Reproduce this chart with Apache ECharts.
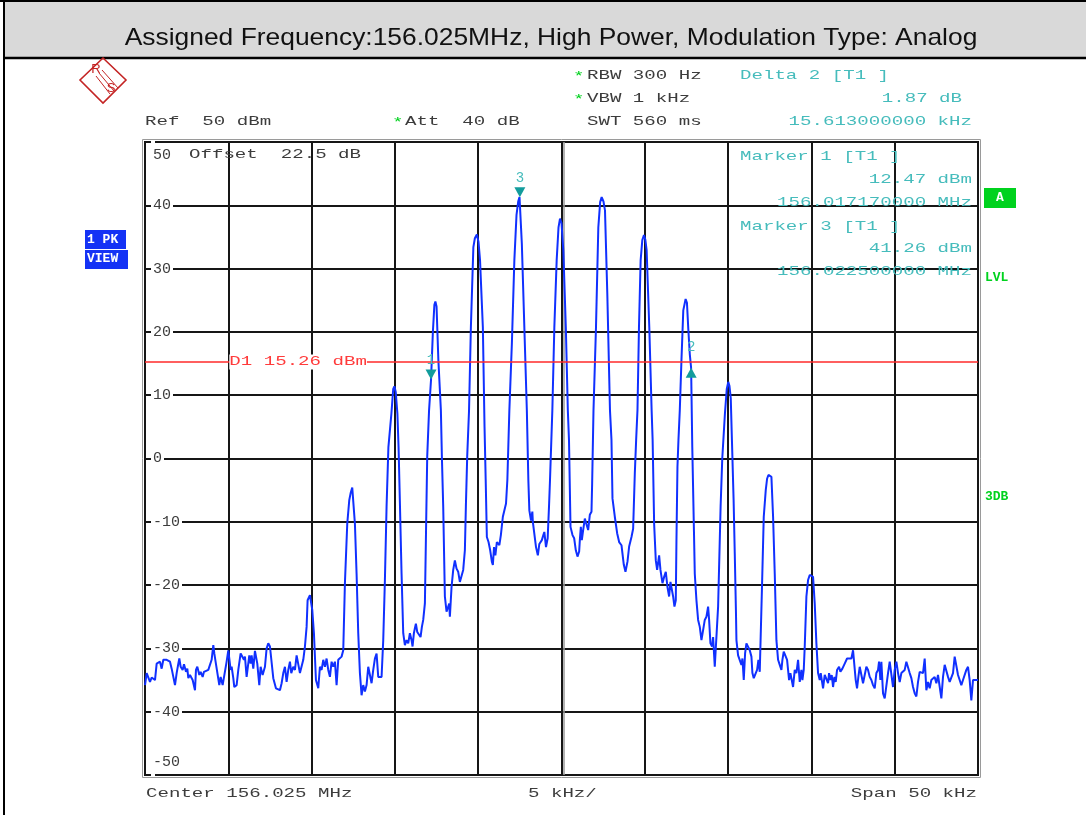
<!DOCTYPE html>
<html>
<head>
<meta charset="utf-8">
<script src="https://cdn.jsdelivr.net/npm/echarts@6/dist/echarts.min.js"></script>
<style>
html, body { margin: 0; padding: 0; background: #fff; }
#main { width: 1086px; height: 815px; }
</style>
</head>
<body>
<div id="main"></div>
<script>
var traceKHz = [
    -25.0, -24.9, -24.8, -24.7, -24.6, -24.4, -24.3, -24.1, -24.0, -23.9, -23.8, -23.7, -23.6, -23.5, -23.4, -23.3,
    -23.2, -23.1, -23.0, -22.94, -22.86, -22.74, -22.66, -22.54, -22.46, -22.4, -22.3, -22.14, -22.0, -21.94, -21.86,
    -21.74, -21.66, -21.54, -21.46, -21.34, -21.2, -21.1, -21.0, -20.9, -20.84, -20.78, -20.66, -20.54, -20.46, -20.34,
    -20.22, -20.1, -20.0, -19.94, -19.86, -19.8, -19.7, -19.64, -19.5, -19.4, -19.26, -19.14, -19.06, -19.0, -18.9,
    -18.74, -18.66, -18.6, -18.5, -18.4, -18.34, -18.26, -18.14, -18.06, -17.94, -17.8, -17.7, -17.6, -17.5, -17.3,
    -17.14, -16.9, -16.8, -16.7, -16.6, -16.5, -16.4, -16.3, -16.22, -16.1, -16.0, -15.9, -15.8, -15.7, -15.6, -15.5,
    -15.4, -15.3, -15.24, -15.1, -15.04, -14.96, -14.86, -14.74, -14.6, -14.5, -14.4, -14.3, -14.2, -14.1, -14.0,
    -13.9, -13.8, -13.7, -13.6, -13.5, -13.4, -13.3, -13.2, -13.1, -13.0, -12.86, -12.74, -12.66, -12.56, -12.48,
    -12.4, -12.3, -12.2, -12.1, -12.0, -11.9, -11.8, -11.7, -11.6, -11.5, -11.4, -11.3, -11.2, -11.1, -11.0, -10.9,
    -10.8, -10.7, -10.6, -10.5, -10.39, -10.21, -10.1, -10.03, -9.95, -9.85, -9.78, -9.7, -9.6, -9.5, -9.4, -9.3,
    -9.2, -9.1, -9.0, -8.94, -8.86, -8.8, -8.74, -8.66, -8.54, -8.46, -8.38, -8.3, -8.2, -8.14, -8.06, -7.95, -7.83,
    -7.72, -7.63, -7.57, -7.5, -7.39, -7.24, -7.18, -7.1, -7.0, -6.9, -6.8, -6.74, -6.7, -6.6, -6.5, -6.4, -6.3,
    -6.2, -6.1, -6.0, -5.9, -5.8, -5.74, -5.66, -5.55, -5.44, -5.29, -5.2, -5.08, -4.98, -4.89, -4.72, -4.62, -4.55,
    -4.48, -4.38, -4.28, -4.18, -4.12, -4.05, -3.97, -3.88, -3.79, -3.73, -3.64, -3.52, -3.43, -3.33, -3.25, -3.13,
    -2.98, -2.83, -2.7, -2.6, -2.52, -2.38, -2.23, -2.08, -1.99, -1.93, -1.83, -1.75, -1.72, -1.63, -1.53, -1.42,
    -1.33, -1.18, -1.09, -1.03, -0.93, -0.83, -0.75, -0.69, -0.55, -0.43, -0.29, -0.18, -0.09, 0.0, 0.11, 0.26,
    0.38, 0.45, 0.54, 0.66, 0.76, 0.86, 0.96, 1.06, 1.1, 1.16, 1.22, 1.3, 1.4, 1.5, 1.6, 1.7, 1.8, 1.84, 1.92,
    2.07, 2.21, 2.32, 2.41, 2.52, 2.61, 2.75, 2.91, 3.0, 3.06, 3.2, 3.34, 3.46, 3.6, 3.74, 3.84, 3.96, 4.06, 4.2,
    4.3, 4.4, 4.48, 4.56, 4.65, 4.75, 4.85, 4.95, 5.03, 5.11, 5.27, 5.41, 5.47, 5.56, 5.66, 5.74, 5.86, 5.94, 6.06,
    6.16, 6.26, 6.36, 6.46, 6.54, 6.62, 6.7, 6.78, 6.86, 6.9, 6.96, 7.02, 7.1, 7.2, 7.31, 7.45, 7.53, 7.61, 7.7,
    7.78, 7.85, 7.95, 8.0, 8.1, 8.2, 8.3, 8.4, 8.5, 8.6, 8.7, 8.8, 8.86, 8.94, 9.04, 9.1, 9.2, 9.3, 9.4, 9.55,
    9.65, 9.81, 9.92, 10.01, 10.08, 10.16, 10.23, 10.33, 10.4, 10.47, 10.5, 10.6, 10.7, 10.8, 10.86, 10.94, 11.02,
    11.1, 11.2, 11.3, 11.4, 11.46, 11.54, 11.66, 11.74, 11.82, 11.9, 11.96, 12.04, 12.14, 12.26, 12.34, 12.42,
    12.5, 12.6, 12.7, 12.8, 12.9, 13.0, 13.1, 13.2, 13.26, 13.34, 13.46, 13.54, 13.66, 13.74, 13.82, 13.9, 14.0,
    14.1, 14.2, 14.3, 14.4, 14.46, 14.54, 14.6, 14.7, 14.8, 14.9, 15.0, 15.1, 15.2, 15.3, 15.4, 15.5, 15.56, 15.62,
    15.7, 15.8, 15.9, 16.0, 16.06, 16.14, 16.22, 16.3, 16.38, 16.46, 16.54, 16.66, 16.74, 16.86, 17.0, 17.14,
    17.26, 17.4, 17.5, 17.58, 17.66, 17.74, 17.82, 17.9, 18.0, 18.1, 18.2, 18.3, 18.4, 18.5, 18.6, 18.7, 18.8,
    18.9, 19.0, 19.06, 19.14, 19.2, 19.3, 19.4, 19.5, 19.6, 19.7, 19.8, 19.9, 20.0, 20.1, 20.2, 20.3, 20.4, 20.5,
    20.6, 20.7, 20.8, 20.9, 21.0, 21.1, 21.2, 21.3, 21.4, 21.5, 21.6, 21.7, 21.8, 21.9, 22.0, 22.1, 22.2, 22.3,
    22.4, 22.5, 22.6, 22.7, 22.8, 22.9, 23.0, 23.1, 23.2, 23.3, 23.4, 23.5, 23.6, 23.7, 23.8, 23.9, 24.0, 24.1,
    24.2, 24.3, 24.4, 24.5, 24.6, 24.7, 24.8, 25.0
];
var traceDbm = [
    -35.8, -33.9, -33.7, -35.3, -34.6, -35.0, -32.4, -32.1, -33.2, -31.8, -31.6, -31.8, -31.6, -32.1, -33.2, -34.5,
    -35.8, -33.9, -32.4, -31.6, -32.9, -33.4, -32.5, -33.7, -33.2, -34.7, -34.2, -35.0, -36.6, -33.4, -32.9,
    -34.2, -33.7, -34.5, -33.7, -33.9, -33.4, -33.3, -31.8, -29.5, -30.8, -31.8, -32.1, -35.8, -34.5, -35.8,
    -36.1, -32.1, -30.3, -31.6, -33.4, -32.9, -34.7, -36.1, -35.8, -33.4, -30.8, -30.7, -31.8, -31.3, -34.5,
    -31.1, -32.4, -31.1, -33.2, -30.4, -30.3, -32.4, -35.8, -32.9, -34.2, -32.9, -30.0, -29.2, -29.7, -34.7,
    -36.3, -36.6, -35.5, -33.9, -32.9, -35.3, -33.4, -32.1, -33.9, -32.9, -33.4, -31.1, -31.3, -33.9, -34.2, -31.8,
    -29.7, -26.6, -22.4, -21.6, -21.3, -23.9, -27.6, -35.0, -36.3, -32.9, -33.4, -31.8, -32.9, -31.6, -33.4,
    -34.5, -32.1, -32.9, -32.1, -35.8, -31.8, -31.8, -31.3, -30.3, -19.7, -10.3, -6.6, -5.5, -4.6, -4.6,
    -10.3, -18.2, -27.6, -33.9, -37.4, -35.8, -36.8, -35.8, -32.9, -32.6, -35.5, -33.4, -31.6, -30.8, -34.5, -34.7,
    -34.5, -28.7, -19.2, -7.6, 1.8, 7.1, 11.0, 11.4, 10.5, 7.1, 1.8, -7.0, -18.2, -27.6, -29.5, -28.7,
    -29.2, -27.6, -28.7, -29.7, -27.6, -26.8, -26.1, -27.4, -27.4, -28.2, -26.6, -25.5, -22.9, -12.9, 0.3, 7.6, 12.5,
    20.0, 24.3, 24.8, 24.0, 15.5, 7.6, 0.3, -7.6, -21.8, -24.2, -24.5, -22.9, -25.0, -20.3, -17.6, -16.1, -17.4,
    -17.9, -19.5, -19.2, -17.6, -14.5, -7.6, 0.3, 7.6, 20.7, 33.4, 34.8, 35.4, 34.2, 31.3, 20.7, 5.0, -3.4,
    -12.4, -13.2, -14.5, -16.3, -16.8, -14.0, -15.3, -13.2, -12.9, -13.7, -12.1, -9.2, -9.2, -7.1, -3.4, 7.6,
    18.1, 31.3, 38.5, 40.6, 41.3, 33.9, 20.7, 7.6, -3.4, -8.2, -9.8, -8.4, -10.0, -11.9, -14.0, -15.3,
    -13.5, -12.9, -12.1, -11.6, -14.0, -12.6, -7.6, -3.4, 7.6, 20.7, 31.3, 36.5, 37.9, 37.2, 32.9, 20.7,
    7.6, 2.9, -10.8, -12.1, -12.6, -14.5, -15.5, -14.7, -12.9, -10.8, -12.9, -11.3, -9.5, -9.7, -11.3, -8.9, -8.4, -3.9, 7.6,
    20.7, 36.5, 40.5, 41.3, 40.6, 39.2, 26.0, 7.6, 2.9, -6.3, -9.2, -11.8, -13.2, -13.7, -16.8, -17.9, -16.3, -13.9, -12.4,
    -11.1, -2.4, 2.9, 7.6, 20.7, 31.3, 34.5, 35.3, 34.6, 32.9, 20.7, 7.6, 2.9, -10.3, -16.1, -17.6, -15.3, -17.6, -19.7,
    -18.7, -17.9, -20.3, -21.8, -19.5, -19.7, -21.8, -23.4, -22.4, -12.9, -1.3, 2.9, 7.6, 15.5, 23.4, 25.2, 24.6, 20.5, 16.5,
    14.3, 1.8, -11.4, -18.2, -22.4, -25.5, -26.6, -28.7, -27.1, -25.5, -25.0, -23.4, -25.5, -29.2, -29.7, -28.2, -32.9, -32.9, -23.4, -7.6,
    0.0, 7.1, 11.0, 12.1, 11.5, 9.5, 2.9, -6.5, -15.0, -24.0, -28.7, -31.1, -31.3, -32.6, -31.6, -35.0, -30.8,
    -29.2, -29.3, -30.3, -31.3, -33.9, -34.7, -33.9, -33.4, -31.8, -33.7, -33.7, -19.7, -9.2, -5.0, -3.2, -2.6,
    -2.6, -2.9, -9.2, -18.2, -28.7, -31.8, -32.6, -33.4, -31.8, -30.5, -30.3, -31.8, -35.0, -33.9, -33.7, -36.1, -33.4,
    -33.9, -31.8, -35.3, -33.4, -35.0, -33.4, -29.7, -21.8, -19.2, -18.4, -18.2, -18.7, -22.9, -29.2, -33.9, -35.0, -33.9, -33.7,
    -36.3, -34.2, -34.5, -35.5, -33.9, -35.0, -34.2, -36.1, -34.5, -35.3, -33.4, -32.9, -33.7, -33.2, -32.4, -31.6,
    -31.7, -31.6, -30.3, -30.0, -35.0, -36.3, -34.5, -32.9, -32.9, -35.5, -35.3, -32.9, -33.4, -34.5, -35.0, -35.8, -36.3,
    -33.9, -33.4, -32.1, -35.0, -32.1, -37.1, -37.9, -37.9, -33.9, -32.1, -32.1, -36.1, -33.4, -32.1, -33.9, -35.3, -33.9, -33.9,
    -33.4, -32.1, -32.3, -33.9, -34.7, -36.1, -37.1, -37.6, -35.3, -33.7, -33.4, -33.9, -31.6, -36.6, -35.3, -36.3, -35.0, -35.3,
    -34.5, -35.5, -34.2, -33.9, -37.9, -34.5, -32.6, -32.4, -34.5, -35.3, -35.0, -33.9, -31.3, -31.4, -34.2, -35.0, -35.8, -35.0,
    -35.3, -33.4, -32.9, -35.0, -38.2, -35.0, -35.3, -35.0
];

var markerNames = ['1', '2', '3'];
var markerKHz = [-7.83, 7.783, -2.5];
var markerDbm = [12.47, 14.34, 41.26];
var markerUp = [false, true, false];
var displayLine = 15.26;

var xMin = -25, xMax = 25, xStep = 5;
var yMin = -50, yMax = 50, yStep = 10;

var MONO = '"Liberation Mono", "DejaVu Sans Mono", monospace';
var GREY = '#3c3c3c';
var CYAN = '#46bcbc';
var GREEN = '#00d21e';
var LOGO = '#c42424';
var SX = 1.47;

var myChart;

var monoText = function(str, x, y, color, align) {
    return {
        type: 'text', x: x, y: y, scaleX: SX, z: 50,
        style: {
            text: str, fill: color, font: '13px ' + MONO,
            textAlign: align || 'left', textVerticalAlign: 'middle'
        }
    };
};

var boldText = function(str, x, y, color, align) {
    return {
        type: 'text', x: x, y: y, z: 50,
        style: {
            text: str, fill: color, font: 'bold 13px ' + MONO,
            textAlign: align || 'left', textVerticalAlign: 'middle'
        }
    };
};

var buildGraphic = function() {
    var g = [];
    // title band
    g.push({ type: 'rect', shape: { x: 4, y: 2, width: 1082, height: 55 }, style: { fill: '#d9d9d9' }, z: 1 });
    g.push({ type: 'line', shape: { x1: 0, y1: 1, x2: 1086, y2: 1 }, style: { stroke: '#000', lineWidth: 2 }, z: 2 });
    g.push({ type: 'line', shape: { x1: 4, y1: 58, x2: 1086, y2: 58 }, style: { stroke: '#000', lineWidth: 2.5 }, z: 2 });
    g.push({ type: 'line', shape: { x1: 4, y1: 0, x2: 4, y2: 815 }, style: { stroke: '#000', lineWidth: 2 }, z: 2 });
    g.push({
        type: 'text', x: 551, y: 38, scaleX: 1.1, z: 5,
        style: {
            text: 'Assigned Frequency:156.025MHz, High Power, Modulation Type: Analog',
            fill: '#111', font: '24px "Liberation Sans", Arial, sans-serif',
            textAlign: 'center', textVerticalAlign: 'middle'
        }
    });

    // R&S logo
    g.push({ type: 'polygon', shape: { points: [[103, 58], [126, 80], [103, 103], [80, 80]] },
        style: { fill: 'none', stroke: LOGO, lineWidth: 1.6 }, z: 5 });
    g.push({ type: 'polyline', shape: { points: [[96, 76], [110, 94]] }, style: { stroke: LOGO, lineWidth: 1 }, z: 5 });
    g.push({ type: 'polyline', shape: { points: [[99, 73], [114, 91]] }, style: { stroke: LOGO, lineWidth: 1 }, z: 5 });
    g.push({ type: 'polyline', shape: { points: [[102, 70], [118, 88]] }, style: { stroke: LOGO, lineWidth: 1 }, z: 5 });
    g.push({ type: 'text', x: 96, y: 69, z: 5, style: { text: 'R', fill: LOGO, font: '13px "Liberation Sans"', textAlign: 'center', textVerticalAlign: 'middle' } });
    g.push({ type: 'text', x: 111, y: 88, z: 5, style: { text: 'S', fill: LOGO, font: '13px "Liberation Sans"', textAlign: 'center', textVerticalAlign: 'middle' } });

    // settings header
    g.push(monoText('*', 573, 77, GREEN));
    g.push(monoText('RBW 300 Hz', 587, 76, GREY));
    g.push(monoText('*', 573, 100, GREEN));
    g.push(monoText('VBW 1 kHz', 587, 99, GREY));
    g.push(monoText('Ref  50 dBm', 145, 122, GREY));
    g.push(monoText('*', 392, 123, GREEN));
    g.push(monoText('Att  40 dB', 405, 122, GREY));
    g.push(monoText('SWT 560 ms', 587, 122, GREY));
    g.push(monoText('Delta 2 [T1 ]', 740, 76, CYAN));
    g.push(monoText('1.87 dB', 962, 99, CYAN, 'right'));
    g.push(monoText('15.613000000 kHz', 972, 122, CYAN, 'right'));

    // double frame round the diagram
    var tl = myChart.convertToPixel({ gridIndex: 0 }, [xMin, yMax]);
    var br = myChart.convertToPixel({ gridIndex: 0 }, [xMax, yMin]);
    g.push({ type: 'rect', shape: { x: tl[0] - 2.5, y: tl[1] - 2.5, width: br[0] - tl[0] + 5, height: br[1] - tl[1] + 5 },
        style: { fill: 'none', stroke: '#9a9a9a', lineWidth: 1 }, z: 0 });
    var c0 = myChart.convertToPixel({ gridIndex: 0 }, [0, yMin]);
    g.push({ type: 'line', shape: { x1: c0[0] + 2.5, y1: tl[1], x2: c0[0] + 2.5, y2: br[1] }, style: { stroke: '#9a9a9a', lineWidth: 1.5 }, z: 0 });

    // inside the diagram
    g.push(monoText('Offset  22.5 dB', 189, 155, GREY));
    g.push({ type: 'text', x: 153, y: 155, z: 50, style: { text: '50', fill: GREY, font: '15px ' + MONO, textVerticalAlign: 'middle' } });
    g.push({ type: 'text', x: 153, y: 762, z: 50, style: { text: '-50', fill: GREY, font: '15px ' + MONO, textVerticalAlign: 'middle' } });
    g.push(monoText('Marker 1 [T1 ]', 740, 157, CYAN));
    g.push(monoText('12.47 dBm', 972, 180, CYAN, 'right'));
    g.push(monoText('156.017170000 MHz', 972, 203, CYAN, 'right'));
    g.push(monoText('Marker 3 [T1 ]', 740, 227, CYAN));
    g.push(monoText('41.26 dBm', 972, 249, CYAN, 'right'));
    g.push(monoText('156.022500000 MHz', 972, 272, CYAN, 'right'));

    var d1 = myChart.convertToPixel({ gridIndex: 0 }, [xMin + xStep, displayLine]);
    g.push({
        type: 'text', x: d1[0] + 1, y: d1[1], scaleX: SX, z: 50,
        style: {
            text: 'D1 15.26 dBm', fill: '#ff3b3b', font: '13px ' + MONO,
            textVerticalAlign: 'middle', backgroundColor: '#fff', padding: [1, 0, 1, 0]
        }
    });

    // footer
    g.push(monoText('Center 156.025 MHz', 146, 794, GREY));
    g.push(monoText('5 kHz/', 528, 794, GREY));
    g.push(monoText('Span 50 kHz', 977, 794, GREY, 'right'));

    // side annotations
    g.push({ type: 'rect', shape: { x: 85, y: 230, width: 41, height: 19 }, style: { fill: '#1432f5' }, z: 5 });
    g.push({ type: 'rect', shape: { x: 85, y: 250, width: 43, height: 19 }, style: { fill: '#1432f5' }, z: 5 });
    g.push(boldText('1 PK', 87, 240, '#fff'));
    g.push(boldText('VIEW', 87, 259, '#fff'));
    g.push({ type: 'rect', shape: { x: 984, y: 188, width: 32, height: 20 }, style: { fill: GREEN }, z: 5 });
    g.push(boldText('A', 1000, 198, '#fff', 'center'));
    g.push(boldText('LVL', 985, 278, GREEN));
    g.push(boldText('3DB', 985, 497, GREEN));
    return g;
};

var init = function() {
    myChart = echarts.init(document.getElementById('main'), null, { renderer: 'canvas' });

    var trace = [];
    for (var i = 0; i < traceKHz.length; i++) {
        trace.push([traceKHz[i], traceDbm[i]]);
    }

    var marks = [];
    for (var m = 0; m < markerNames.length; m++) {
        marks.push({
            name: markerNames[m],
            coord: [markerKHz[m], markerDbm[m]],
            symbolRotate: markerUp[m] ? 0 : 180,
            symbolOffset: [0, markerUp[m] ? 5 : -5],
            label: {
                show: true, formatter: markerNames[m], position: 'top',
                distance: markerUp[m] ? 13 : 2,
                color: CYAN, fontFamily: MONO, fontSize: 14
            }
        });
    }

    myChart.setOption({
        animation: false,
        backgroundColor: '#fff',
        grid: {
            left: 145, top: 142, width: 833, height: 633,
            show: true, borderColor: '#111', borderWidth: 2, backgroundColor: '#fff'
        },
        xAxis: {
            type: 'value', min: xMin, max: xMax, interval: xStep,
            axisLine: { show: false }, axisTick: { show: false }, axisLabel: { show: false },
            splitLine: { show: true, lineStyle: { color: '#161616', width: 2 } }
        },
        yAxis: {
            type: 'value', min: yMin, max: yMax, interval: yStep,
            axisLine: { show: false }, axisTick: { show: false },
            axisLabel: {
                show: true, inside: true, margin: 6,
                color: GREY, fontFamily: MONO, fontSize: 15,
                backgroundColor: '#fff', padding: [2, 2, 2, 2],
                formatter: function(v) {
                    return (v === yMin || v === yMax) ? '' : String(v);
                }
            },
            splitLine: { show: true, lineStyle: { color: '#161616', width: 2 } }
        },
        series: [{
            type: 'line',
            data: trace,
            showSymbol: false,
            sampling: 'none',
            lineStyle: { color: '#1030ff', width: 2 },
            z: 3,
            markLine: {
                silent: true, symbol: 'none',
                lineStyle: { color: '#ff2a2a', width: 1.5, type: 'solid' },
                label: { show: false },
                data: [{ yAxis: displayLine }]
            },
            markPoint: {
                symbol: 'triangle', symbolSize: [11, 10],
                itemStyle: { color: '#129c9c' },
                data: marks
            }
        }]
    });

    myChart.setOption({ graphic: buildGraphic() });
};

init();
</script>
</body>
</html>
